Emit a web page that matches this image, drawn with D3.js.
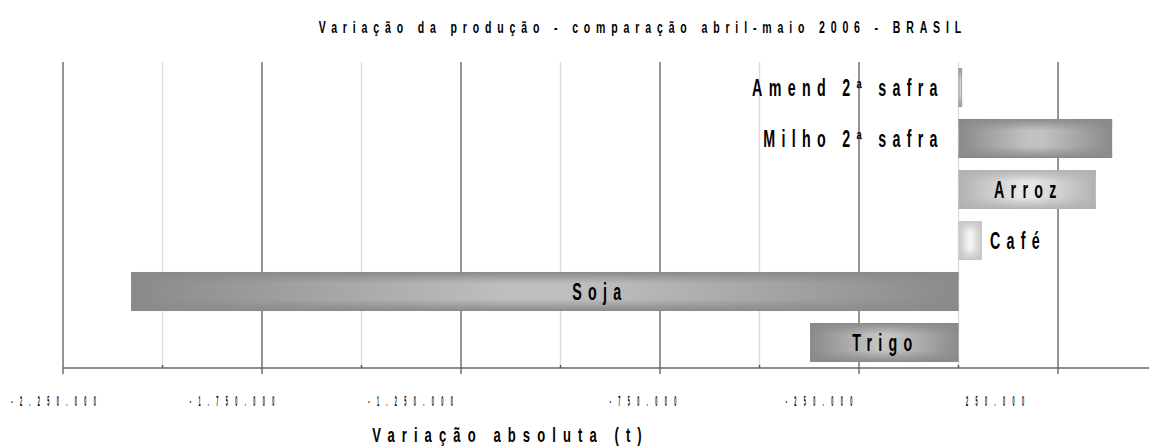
<!DOCTYPE html>
<html>
<head>
<meta charset="utf-8">
<script src="https://cdn.jsdelivr.net/npm/d3@7"></script>
<style>
  html, body { margin: 0; padding: 0; background: #fff; }
  svg { display: block; }
  text { font-family: "Liberation Sans", Arial, sans-serif; font-weight: bold; fill: #000; }
</style>
</head>
<body>
<svg id="chart" width="1149" height="448"></svg>
<script>
// ---- data ----
const categories = ["Amend 2ª safra", "Milho 2ª safra", "Arroz", "Café", "Soja", "Trigo"];
const values = [9000, 386000, 345000, 59000, -2079000, -373000];
const tickValues = [-2250000, -2000000, -1750000, -1500000, -1250000, -1000000, -750000, -500000, -250000, 0, 250000];
const tickLabels = ["-2.250.000", "", "-1.750.000", "", "-1.250.000", "", "-750.000", "", "-250.000", "", "250.000"];
const title = "Variação da produção - comparação abril-maio 2006 - BRASIL";
const xTitle = "Variação absoluta (t)";

// ---- styles (not data) ----
const barStyle = {
  "Amend 2ª safra": { edge: "#9a9a9a", center: "#d0d0d0", label: "left" },
  "Milho 2ª safra": { edge: "#8a8a8a", center: "#c2c2c2", label: "left" },
  "Arroz":          { edge: "#b2b2b2", center: "#e6e6e6", label: "center" },
  "Café":           { edge: "#c6c6c6", center: "#f4f4f4", label: "right" },
  "Soja":           { edge: "#8a8a8a", center: "#bebebe", label: "soja" },
  "Trigo":          { edge: "#8a8a8a", center: "#c4c4c4", label: "center" }
};

const svg = d3.select("#chart");
const plotTop = 62, plotBottom = 368, plotLeft = 63, plotRight = 1149;

const x = d3.scaleLinear().domain([-2250000, 478600]).range([plotLeft, plotRight]);
const y = d3.scaleBand().domain(categories).range([plotTop, plotBottom]).paddingInner(0.235).paddingOuter(0.1175);
// positions of the tick texts (drawn offset as in the original)
const xLabel = d3.scaleLinear().domain([-2250000, -1250000, -750000, 250000]).range([53.5, 410.5, 643, 995]);

// condensed text helper: horizontal scale sx, visible letter spacing sp
function ctext(g, tx, ty, str, size, sx, sp, anchor) {
  let shift = 0;
  if (anchor === "end") shift = sp;
  else if (anchor === "middle") shift = sp / 2;
  return g.append("text")
    .attr("transform", `translate(${tx + shift},${ty}) scale(${sx},1)`)
    .attr("text-anchor", anchor)
    .style("font-size", size + "px")
    .style("letter-spacing", (sp / sx) + "px")
    .text(str);
}

const defs = svg.append("defs");
categories.forEach((c, i) => {
  const s = barStyle[c];
  const gh = defs.append("linearGradient").attr("id", "gh" + i).attr("x1", 0).attr("x2", 1).attr("y1", 0).attr("y2", 0);
  gh.append("stop").attr("offset", "0%").attr("stop-color", s.edge);
  gh.append("stop").attr("offset", "45%").attr("stop-color", s.center);
  gh.append("stop").attr("offset", "55%").attr("stop-color", s.center);
  gh.append("stop").attr("offset", "100%").attr("stop-color", s.edge);
  const gv = defs.append("linearGradient").attr("id", "gv" + i).attr("x1", 0).attr("x2", 0).attr("y1", 0).attr("y2", 1);
  gv.append("stop").attr("offset", "0%").attr("stop-color", s.edge).attr("stop-opacity", 1);
  gv.append("stop").attr("offset", "30%").attr("stop-color", s.edge).attr("stop-opacity", 0);
  gv.append("stop").attr("offset", "70%").attr("stop-color", s.edge).attr("stop-opacity", 0);
  gv.append("stop").attr("offset", "100%").attr("stop-color", s.edge).attr("stop-opacity", 1);
});

// gridlines
const major = (d, i) => tickLabels[i] !== "";
svg.append("g").selectAll("line").data(tickValues).join("line")
  .attr("x1", d => x(d)).attr("x2", d => x(d))
  .attr("y1", plotTop).attr("y2", (d, i) => major(d, i) ? plotBottom + 6 : plotBottom)
  .attr("stroke", (d, i) => major(d, i) ? "#666" : "#dcdcdc")
  .attr("stroke-width", 1.4);

// minor tick marks
svg.append("g").selectAll("line").data(tickValues.filter((d, i) => !major(d, i))).join("line")
  .attr("x1", d => x(d)).attr("x2", d => x(d))
  .attr("y1", plotBottom - 3).attr("y2", plotBottom)
  .attr("stroke", "#555").attr("stroke-width", 1.4);

// bars
const bars = svg.append("g");
categories.forEach((c, i) => {
  const v = values[i];
  const x0 = x(Math.min(0, v)), x1 = x(Math.max(0, v));
  bars.append("rect").attr("x", x0).attr("y", y(c)).attr("width", x1 - x0).attr("height", y.bandwidth())
    .attr("fill", `url(#gh${i})`);
  bars.append("rect").attr("x", x0).attr("y", y(c)).attr("width", x1 - x0).attr("height", y.bandwidth())
    .attr("fill", `url(#gv${i})`);
});

// axis line
svg.append("line").attr("x1", plotLeft).attr("x2", plotRight).attr("y1", plotBottom).attr("y2", plotBottom)
  .attr("stroke", "#666").attr("stroke-width", 1.5);

// tick labels (very condensed)
const tl = svg.append("g");
tickValues.forEach((d, i) => {
  if (!major(d, i)) return;
  ctext(tl, xLabel(d), 406, tickLabels[i], 15, 0.25, 7.4, "middle");
});

// category labels
const lab = svg.append("g");
categories.forEach((c, i) => {
  const v = values[i], s = barStyle[c];
  const cy = y(c) + y.bandwidth() / 2 + 8;
  let tx, anchor;
  if (s.label === "left") { tx = x(0) - 21; anchor = "end"; }
  else if (s.label === "right") { tx = x(v) + 8; anchor = "start"; }
  else if (s.label === "soja") { tx = (x(0) + x(v)) / 2 + 52; anchor = "middle"; }
  else { tx = (x(0) + x(v)) / 2 - 2; anchor = "middle"; }
  ctext(lab, tx, cy, c, 23, 0.62, 6.3, anchor);
});

// title
ctext(svg, 640, 33, title, 17, 0.62, 5.85, "middle");

// axis title
ctext(svg, 507, 442, xTitle, 21, 0.62, 7.1, "middle");
</script>
</body>
</html>
